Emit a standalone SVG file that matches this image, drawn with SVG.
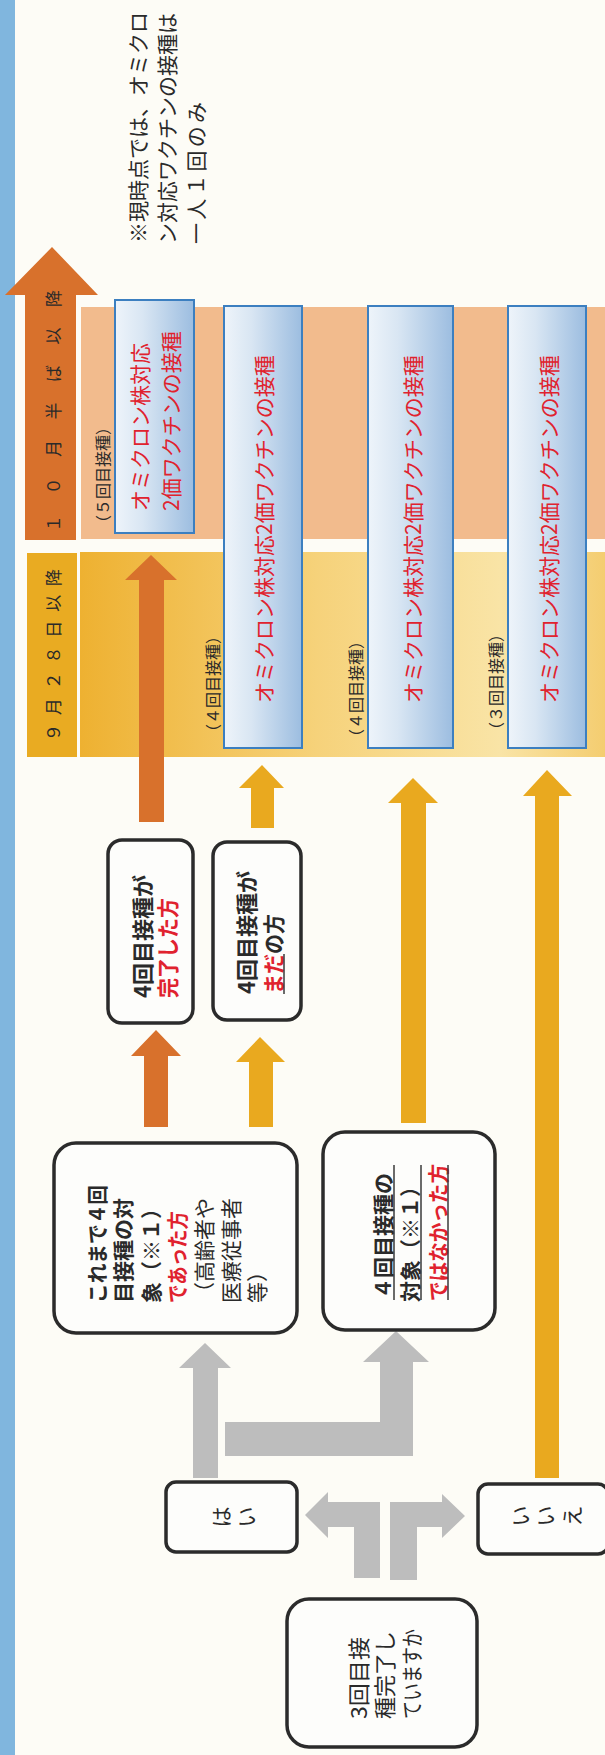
<svg xmlns="http://www.w3.org/2000/svg" width="605" height="1755" viewBox="0 0 605 1755">
<defs>
<linearGradient id="gBlue" x1="0" y1="0" x2="1" y2="0">
<stop offset="0" stop-color="#eef4fa"/>
<stop offset="0.35" stop-color="#d9e6f3"/>
<stop offset="1" stop-color="#9cbde0"/>
</linearGradient>
<linearGradient id="gGold" x1="0" y1="0" x2="1" y2="0">
<stop offset="0" stop-color="#eeb131"/>
<stop offset="0.45" stop-color="#f6d27a"/>
<stop offset="0.8" stop-color="#f9e4a6"/>
<stop offset="1" stop-color="#f4cd70"/>
</linearGradient>
<style>
.t{font-family:"Noto Sans CJK JP","Noto Sans CJK SC",sans-serif;dominant-baseline:central;fill:#2a2a2a}
.b{font-weight:700}
.red{fill:#e0222e}
.s16{font-size:16px}
.s17{font-size:17px}
.s20{font-size:20px}
.s21{font-size:21px}
.s22{font-size:22px}
.box{fill:#fdfdfb;stroke:#2b2b2b;stroke-width:3.5}
.vbox{fill:url(#gBlue);stroke:#3c7fc0;stroke-width:2}
.gray{fill:#bdbdbd}
.gold{fill:#e9a91f}
.orange{fill:#d8712c}
.ul{stroke:#3a3a3a;stroke-width:1.5}
</style>
</defs>
<rect x="0" y="0" width="605" height="1755" fill="#fdfcf6"/>
<rect x="0" y="0" width="15" height="1755" fill="#80b6de"/>

<g id="note">
<text class="t s21" fill="#333" transform="translate(137,243) rotate(-90)">※現時点では、オミクロ</text>
<text class="t s21" transform="translate(166,244) rotate(-90)">ン対応ワクチンの接種は</text>
<text class="t s21" transform="translate(195,244) rotate(-90)" textLength="142" lengthAdjust="spacing">一人１回のみ</text>
</g>

<g id="band-oct">
<rect x="81" y="307" width="524" height="232" fill="#f2bb8d"/>
<path class="orange" d="M25,540 L25,295 L5,295 L52,247 L98,295 L76,295 L76,540 Z"/>
<text class="t s17" fill="#3a2818" transform="translate(52,532) rotate(-90)" textLength="242" lengthAdjust="spacing">１０月半ば以降</text>
<text class="t s16" fill="#333" transform="translate(102,531) rotate(-90)">（５回目接種）</text>
</g>

<g id="band-sep">
<rect x="80" y="552" width="525" height="205" fill="url(#gGold)"/>
<rect x="27" y="553" width="50" height="204" fill="#e9ab22"/>
<text class="t s17" fill="#3a2818" transform="translate(52,741) rotate(-90)" textLength="172" lengthAdjust="spacing">９月２８日以降</text>
<text class="t s16" transform="translate(212,740) rotate(-90)">（４回目接種）</text>
<text class="t s16" transform="translate(355,745) rotate(-90)">（４回目接種）</text>
<text class="t s16" transform="translate(495,738) rotate(-90)">（３回目接種）</text>
</g>

<g id="vaccine-5">
<rect class="vbox" x="115" y="300" width="79" height="233"/>
<text class="t s21 red" transform="translate(139,511) rotate(-90)">オミクロン株対応</text>
<text class="t s21 red" transform="translate(170,511) rotate(-90)">2価ワクチンの接種</text>
</g>
<g id="vaccine-4a">
<rect class="vbox" x="224" y="306" width="78" height="442"/>
<text class="t s21 red" transform="translate(263,703) rotate(-90)">オミクロン株対応2価ワクチンの接種</text>
</g>
<g id="vaccine-4b">
<rect class="vbox" x="368" y="306" width="85" height="442"/>
<text class="t s21 red" transform="translate(412,703) rotate(-90)">オミクロン株対応2価ワクチンの接種</text>
</g>
<g id="vaccine-3">
<rect class="vbox" x="508" y="306" width="78" height="442"/>
<text class="t s21 red" transform="translate(548,703) rotate(-90)">オミクロン株対応2価ワクチンの接種</text>
</g>

<g id="connectors">
<path class="orange" d="M139,822 L139,580 L125,580 L151,555 L177,580 L164,580 L164,822 Z"/>
<path class="orange" d="M144,1127 L144,1056 L131,1056 L156,1030 L181,1056 L168,1056 L168,1127 Z"/>
<path class="gold" d="M251,828 L251,788 L239,788 L262,765 L284,788 L274,788 L274,828 Z"/>
<path class="gold" d="M249,1127 L249,1062 L236,1062 L260,1037 L285,1062 L273,1062 L273,1127 Z"/>
<path class="gold" d="M401,1123 L401,803 L388,803 L413,778 L438,803 L426,803 L426,1123 Z"/>
<path class="gold" d="M535,1478 L535,796 L523,796 L547,770 L572,796 L559,796 L559,1478 Z"/>
<path class="gray" d="M193,1478 L193,1368 L179,1368 L205,1343 L231,1368 L218,1368 L218,1478 Z"/>
<path class="gray" d="M225,1456 L225,1422 L380,1422 L380,1362 L363,1362 L396,1331 L429,1362 L413,1362 L413,1456 Z"/>
<path class="gray" d="M380,1578 L354,1578 L354,1527 L328,1527 L328,1538 L305,1515 L328,1492 L328,1502 L380,1502 Z"/>
<path class="gray" d="M390,1580 L390,1502 L442,1502 L442,1494 L465,1516 L442,1538 L442,1527 L417,1527 L417,1580 Z"/>
</g>

<g id="done4">
<rect class="box" x="108" y="840" width="85" height="183" rx="14"/>
<text class="t s22 b" transform="translate(141,998) rotate(-90)">4回目接種が</text>
<text class="t s22 b red" transform="translate(166,998) rotate(-90)" textLength="100" lengthAdjust="spacingAndGlyphs">完了した方</text>
</g>

<g id="notyet4">
<rect class="box" x="213" y="842" width="88" height="178" rx="14"/>
<text class="t s22 b" transform="translate(245,994) rotate(-90)">4回目接種が</text>
<text class="t s22 b" transform="translate(272,994) rotate(-90)" textLength="80" lengthAdjust="spacingAndGlyphs"><tspan class="red">まだ</tspan>の方</text>
<line class="ul" x1="284" y1="994" x2="284" y2="954"/>
</g>

<g id="target4">
<rect class="box" x="54" y="1143" width="243" height="190" rx="22"/>
<text class="t s21 b" transform="translate(96,1303) rotate(-90)" textLength="118" lengthAdjust="spacingAndGlyphs">これまで４回</text>
<text class="t s21 b" transform="translate(122,1303) rotate(-90)">目接種の対</text>
<text class="t s21 b" transform="translate(150,1303) rotate(-90)">象（※１）</text>
<text class="t s21 b red" transform="translate(176,1303) rotate(-90)" textLength="92" lengthAdjust="spacingAndGlyphs">であった方</text>
<text class="t s21" transform="translate(203,1303) rotate(-90)">（高齢者や</text>
<text class="t s21" transform="translate(230,1303) rotate(-90)">医療従事者</text>
<text class="t s21" transform="translate(256,1303) rotate(-90)">等）</text>
</g>

<g id="nottarget4">
<rect class="box" x="323" y="1132" width="172" height="198" rx="22"/>
<text class="t s21 b" transform="translate(382,1299) rotate(-90)">４回目接種の</text>
<text class="t s21 b" transform="translate(409,1302) rotate(-90)">対象（※１）</text>
<text class="t s21 b red" transform="translate(437,1301) rotate(-90)" textLength="137" lengthAdjust="spacingAndGlyphs">ではなかった方</text>
<line class="ul" x1="394" y1="1300" x2="394" y2="1165"/>
<line class="ul" x1="421" y1="1300" x2="421" y2="1165"/>
<line class="ul" x1="448" y1="1300" x2="448" y2="1165"/>
</g>

<g id="yes">
<rect class="box" x="166" y="1482" width="131" height="70" rx="10"/>
<text class="t s21" text-anchor="middle" transform="translate(220,1517) rotate(-90)">は</text>
<text class="t s21" text-anchor="middle" transform="translate(245,1517) rotate(-90)">い</text>
</g>

<g id="no">
<rect class="box" x="478" y="1484" width="130" height="70" rx="10"/>
<text class="t s21" text-anchor="middle" transform="translate(519,1516) rotate(-90)">い</text>
<text class="t s21" text-anchor="middle" transform="translate(544,1516) rotate(-90)">い</text>
<text class="t s21" text-anchor="middle" transform="translate(571,1516) rotate(-90)">え</text>
</g>

<g id="question">
<rect class="box" x="287" y="1599" width="190" height="148" rx="22"/>
<text class="t s22" fill="#333" transform="translate(357,1719) rotate(-90)" textLength="82" lengthAdjust="spacingAndGlyphs">3回目接</text>
<text class="t s22" fill="#333" transform="translate(383,1719) rotate(-90)">種完了し</text>
<text class="t s22" fill="#333" transform="translate(410,1719) rotate(-90)" textLength="90" lengthAdjust="spacingAndGlyphs">ていますか</text>
</g>
</svg>
